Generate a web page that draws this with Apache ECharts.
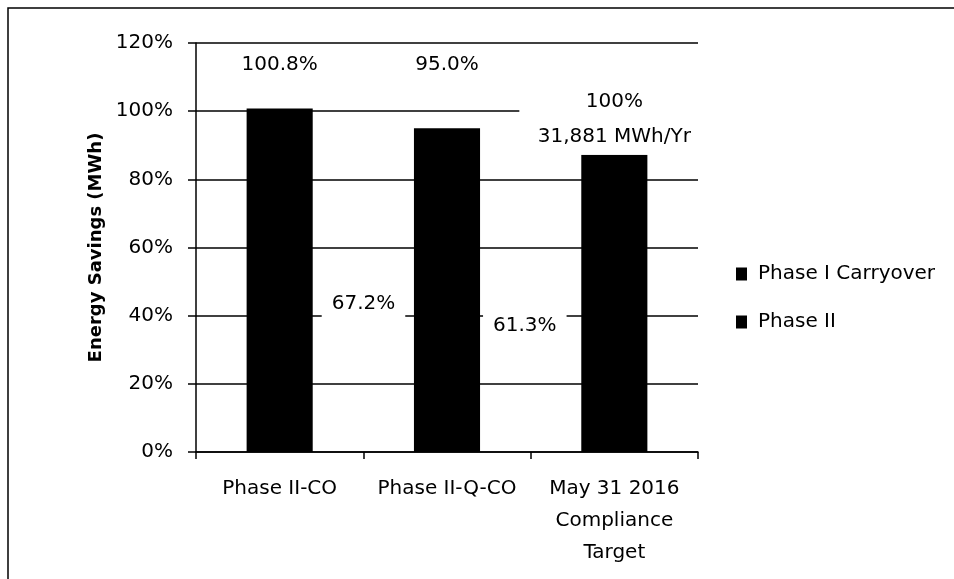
<!DOCTYPE html>
<html><head><meta charset="utf-8">
<script src="https://cdn.jsdelivr.net/npm/echarts@6/dist/echarts.min.js"></script>
<style>html,body{margin:0;padding:0;background:#fff}#c{width:954px;height:579px}</style>
</head><body><div id="c"></div>
<script>
var categories = ['Phase II-CO', 'Phase II-Q-CO', 'May 31 2016\nCompliance\nTarget'];
var phase2 = [67.2, 61.3, 87.2];
var carryover = [33.6, 33.7, 0];
var totalLabels = ['100.8%', '95.0%', null];
var targetLabel = '100%\n31,881 MWh/Yr';
var yTicks = [0, 20, 40, 60, 80, 100, 120];

var F = '"DejaVu Sans", sans-serif';
var chart = echarts.init(document.getElementById('c'));
var p2Label = [
  { distance: 9, offset: [0, -34] },
  { distance: 3, offset: [0, -21.5] }
];
var p2Data = phase2.map(function (v, i) {
  if (i < 2) {
    return { value: v, label: { show: true, position: 'right', distance: p2Label[i].distance,
      offset: p2Label[i].offset, formatter: v.toFixed(1) + '%', backgroundColor: '#fff',
      padding: [5, 10, 5, 10] } };
  }
  return { value: v, label: { show: true, position: 'top', distance: 0, formatter: targetLabel,
    backgroundColor: '#fff', padding: [0, 0, 0, 0], lineHeight: 35, width: 190, align: 'center' } };
});
var LABEL_LEVEL = 113.5;
chart.setOption({
  animation: false,
  textStyle: { fontFamily: F },
  graphic: [{ type: 'polyline', shape: { points: [[8, 579], [8, 8], [954, 8]] },
    style: { stroke: '#000', lineWidth: 1.5, fill: null } }],
  grid: { left: 196, right: 256, top: 43, bottom: 127 },
  legend: {
    orient: 'vertical', left: 731, top: 259, itemWidth: 11, itemHeight: 13, itemGap: 28,
    data: ['Phase I Carryover', 'Phase II'],
    textStyle: { fontFamily: F, fontSize: 20, color: '#000', padding: [0, 0, 0, 6] },
    icon: 'rect'
  },
  xAxis: {
    type: 'category', data: categories,
    axisLine: { lineStyle: { color: '#000', width: 1.5 } },
    axisTick: { show: true, interval: 0, length: 7, lineStyle: { color: '#000', width: 1.5 } },
    axisLabel: { interval: 0, hideOverlap: false, color: '#000', fontSize: 20, fontFamily: F,
      margin: 21, lineHeight: 32 }
  },
  yAxis: {
    type: 'value', min: yTicks[0], max: yTicks[yTicks.length - 1], interval: 20,
    name: 'Energy Savings (MWh)', nameLocation: 'middle', nameGap: 62,
    nameTextStyle: { color: '#000', fontSize: 18, fontWeight: 'bold', fontFamily: F },
    axisLine: { show: true, lineStyle: { color: '#000', width: 1.5 } },
    axisTick: { show: true, length: 8, lineStyle: { color: '#000', width: 1.5 } },
    axisLabel: { color: '#000', fontSize: 20, fontFamily: F, margin: 23, formatter: '{value}%' },
    splitLine: { lineStyle: { color: '#000', width: 1.5 } }
  },
  series: [
    { name: 'Phase II', type: 'bar', stack: 's', data: p2Data, barWidth: '39.5%',
      itemStyle: { color: '#000' },
      label: { color: '#000', fontSize: 20, fontFamily: F } },
    { name: 'Phase I Carryover', type: 'bar', stack: 's', data: carryover, barWidth: '39.5%',
      itemStyle: { color: '#000' } },
    { name: 'totals', type: 'scatter', symbolSize: 0, silent: true,
      itemStyle: { color: '#000', opacity: 1 },
      data: totalLabels.map(function (t) { return t ? LABEL_LEVEL : null; }),
      label: { show: true, position: 'inside', color: '#000', textBorderWidth: 0,
        fontSize: 20, fontFamily: F,
        formatter: function (p) { return totalLabels[p.dataIndex]; } } }
  ]
});
</script></body></html>
